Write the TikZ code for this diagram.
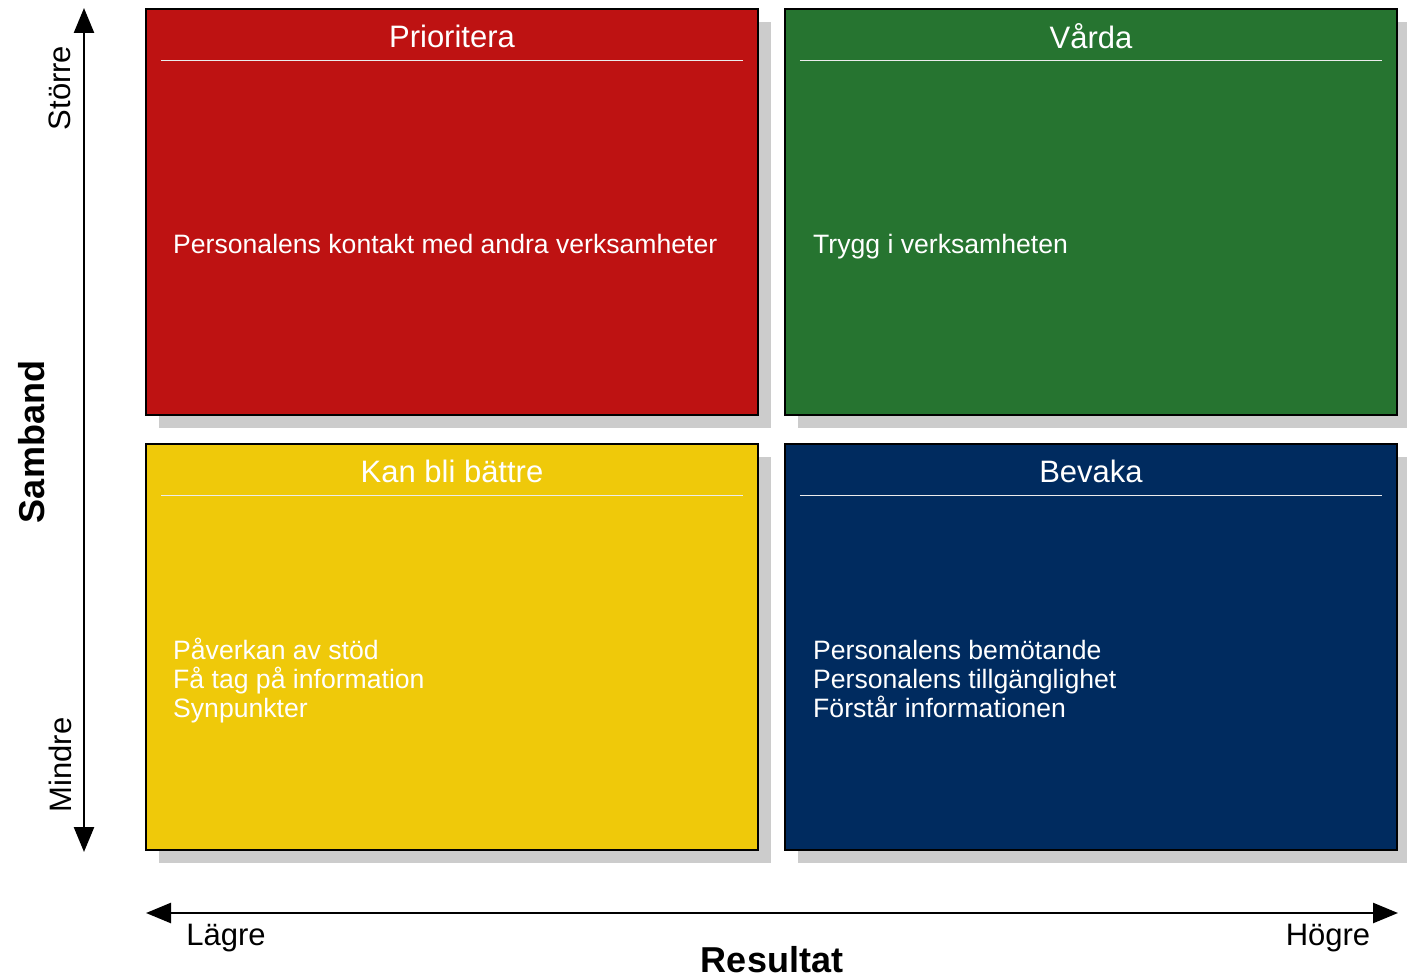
\documentclass[tikz,border=0pt]{standalone}
\usepackage{fontspec}
\setmainfont{Liberation Sans}
\usetikzlibrary{arrows.meta,shadows}
\definecolor{quadred}{RGB}{190,18,18}
\definecolor{quadgreen}{RGB}{38,116,48}
\definecolor{quadyellow}{RGB}{239,201,10}
\definecolor{quadblue}{RGB}{0,43,95}
\definecolor{shadowgray}{RGB}{204,204,204}
\begin{document}
\begin{tikzpicture}[x=1pt, y=-1pt,
    quad/.style={draw=black, line width=2.5pt, minimum width=612pt, minimum height=406pt,
      drop shadow={shadow xshift=13pt, shadow yshift=-13pt, fill=shadowgray, opacity=1}},
    quadtitle/.style={text=white, font=\fontsize{31}{34}\selectfont},
    quadtext/.style={text=white, anchor=west, align=left, inner sep=0pt, font=\fontsize{26.6}{29}\selectfont},
    sepline/.style={white!85!gray, line width=0.8pt},
    axislabel/.style={font=\fontsize{31}{34}\selectfont},
    axisname/.style={font=\fontsize{36}{40}\selectfont\bfseries},
    axis/.style={line width=2.5pt, {Triangle[length=25pt,width=20pt]}-{Triangle[length=25pt,width=20pt]}}]
    \useasboundingbox (0,0) rectangle (1407,979);

    % quadrants
    \node[quad, fill=quadred] (prio) at (452,212) {};
    \node[quad, fill=quadgreen] (varda) at (1091,212) {};
    \node[quad, fill=quadyellow] (battre) at (452,647) {};
    \node[quad, fill=quadblue] (bevaka) at (1091,647) {};

    \node[quadtitle] (prioT) at (452,36) {Prioritera};
    \node[quadtitle] (vardaT) at (1091,36) {Vårda};
    \node[quadtitle] (battreT) at (452,471) {Kan bli bättre};
    \node[quadtitle] (bevakaT) at (1091,471) {Bevaka};

    \foreach \q in {prio,varda,battre,bevaka}
      \draw[sepline] ([xshift=16pt,yshift=-53pt]\q.north west) -- ([xshift=-16pt,yshift=-53pt]\q.north east);

    \node[quadtext] (prioB) at (173,244) {Personalens kontakt med andra verksamheter};
    \node[quadtext] (vardaB) at (813,247) {Trygg i verksamheten};
    \node[quadtext] (battreB) at (173,681) {Påverkan av stöd\\Få tag på information\\Synpunkter};
    \node[quadtext] (bevakaB) at (813,679) {Personalens bemötande\\Personalens tillgänglighet\\Förstår informationen};

    % axes
    \coordinate (ytop) at (84,8);
    \coordinate (ybot) at (84,852);
    \coordinate (xleft) at (146,913);
    \coordinate (xright) at (1398,913);
    \draw[axis] (ybot) -- (ytop);
    \draw[axis] (xleft) -- (xright);

    \node[axislabel, rotate=90] (storre) at (60,88) {Större};
    \node[axislabel, rotate=90] (mindre) at (60,765) {Mindre};
    \node[axisname, rotate=90] (samband) at (32,442) {Samband};
    \node[axislabel] (lagre) at (226,938) {Lägre};
    \node[axislabel] (hogre) at (1328,938) {Högre};
    \node[axisname] (resultat) at (772,960) {Resultat};
\end{tikzpicture}
\end{document}
